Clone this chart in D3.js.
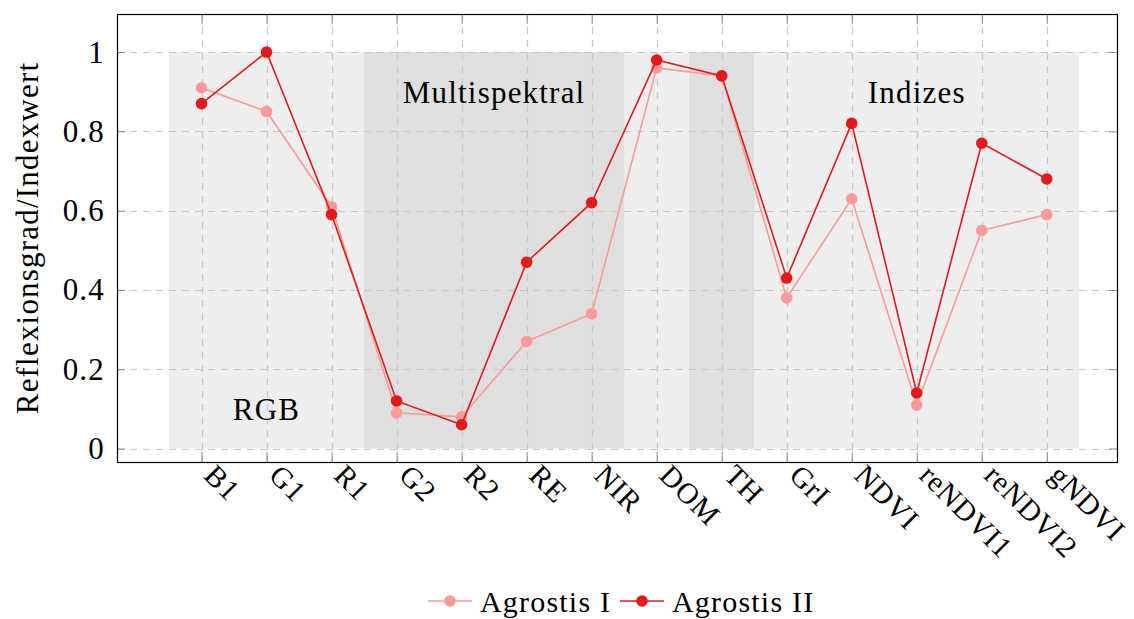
<!DOCTYPE html>
<html>
<head>
<meta charset="utf-8">
<script src="https://cdn.jsdelivr.net/npm/d3@7"></script>
<style>
  html, body { margin: 0; padding: 0; background: #fff; }
</style>
</head>
<body>
<svg id="chart" width="1134" height="619" font-family="'Liberation Serif', 'DejaVu Serif', serif" letter-spacing="1.2"></svg>
<script>
// Band / index names along the x axis
const categories = ["B1", "G1", "R1", "G2", "R2", "RE", "NIR", "DOM", "TH", "GrI", "NDVI", "reNDVI1", "reNDVI2", "gNDVI"];

// Mean reflectance / index value per band
const agrostisI  = [0.91, 0.85, 0.61, 0.09, 0.08, 0.27, 0.34, 0.96, 0.94, 0.38, 0.63, 0.11, 0.55, 0.59];
const agrostisII = [0.87, 1.00, 0.59, 0.12, 0.06, 0.47, 0.62, 0.98, 0.94, 0.43, 0.82, 0.14, 0.77, 0.68];

const seriesNames = ["Agrostis I", "Agrostis II"];
const yTicks = [0, 0.2, 0.4, 0.6, 0.8, 1];

// Shaded sensor groups (x in category positions 1..14, y in value units)
const groupSpans = [
  { x0: 0.5, x1: 14.5, tone: "light" },
  { x0: 3.5, x1: 7.5,  tone: "dark" },
  { x0: 8.5, x1: 9.5,  tone: "dark" }
];
const groupLabels = [
  { text: "RGB",           x: 2,   y: 0.1 },
  { text: "Multispektral", x: 5.5, y: 0.9 },
  { text: "Indizes",       x: 12,  y: 0.9 }
];

const colors = ["#fb9a99", "#e31a1c"];
const fontSize = 31;

const svg = d3.select("#chart");
const plot = { left: 117, right: 1117, top: 14, bottom: 462 };

const x = d3.scaleLinear().domain([-0.3, 15.08]).range([plot.left, plot.right]);
const y = d3.scaleLinear().domain([-0.034, 1.096]).range([plot.bottom, plot.top]);

// group shading
svg.append("g").selectAll("rect").data(groupSpans).join("rect")
  .attr("x", d => x(d.x0))
  .attr("width", d => x(d.x1) - x(d.x0))
  .attr("y", y(1))
  .attr("height", y(0) - y(1))
  .attr("fill", d => d.tone === "light" ? "#eeeeee" : "#dfdfdf");

// dashed grid
const grid = svg.append("g")
  .attr("stroke", "#c8c8c8").attr("stroke-width", 1.2).attr("stroke-dasharray", "7,6");
grid.selectAll("line.gx").data(d3.range(1, categories.length + 1)).join("line")
  .attr("class", "gx")
  .attr("x1", d => Math.round(x(d)) + 0.5).attr("x2", d => Math.round(x(d)) + 0.5)
  .attr("y1", plot.top).attr("y2", plot.bottom);
grid.selectAll("line.gy").data(yTicks).join("line")
  .attr("class", "gy")
  .attr("y1", d => Math.round(y(d)) + 0.5).attr("y2", d => Math.round(y(d)) + 0.5)
  .attr("x1", plot.left).attr("x2", plot.right);

// axes with inward ticks on all four sides
const xTickVals = d3.range(1, categories.length + 1);
const xAxisB = d3.axisBottom(x).tickValues(xTickVals).tickSize(-10).tickFormat("");
const xAxisT = d3.axisTop(x).tickValues(xTickVals).tickSize(-10).tickFormat("");
const yAxisL = d3.axisLeft(y).tickValues(yTicks).tickSize(-8).tickFormat("");
const yAxisR = d3.axisRight(y).tickValues(yTicks).tickSize(-8).tickFormat("");

function styleAxis(g) {
  g.select(".domain").remove();
  g.selectAll(".tick line").attr("stroke", "#8a8a8a").attr("stroke-width", 1);
}
svg.append("g").attr("transform", `translate(0,${plot.bottom})`).call(xAxisB).call(styleAxis);
svg.append("g").attr("transform", `translate(0,${plot.top})`).call(xAxisT).call(styleAxis);
svg.append("g").attr("transform", `translate(${plot.left},0)`).call(yAxisL).call(styleAxis);
svg.append("g").attr("transform", `translate(${plot.right},0)`).call(yAxisR).call(styleAxis);

// frame
svg.append("rect")
  .attr("x", plot.left + 0.5).attr("y", plot.top + 0.5)
  .attr("width", plot.right - plot.left).attr("height", plot.bottom - plot.top)
  .attr("fill", "none").attr("stroke", "#000").attr("stroke-width", 1.2);

// y tick labels
svg.append("g").selectAll("text").data(yTicks).join("text")
  .attr("x", 105).attr("y", d => y(d))
  .attr("dy", "0.34em")
  .attr("text-anchor", "end")
  .attr("font-size", fontSize)
  .text(d => d3.format("~g")(d));

// x tick labels, rotated
svg.append("g").selectAll("text").data(categories).join("text")
  .attr("transform", (d, i) => `translate(${x(i + 1) + 1},${plot.bottom + 15}) rotate(45)`)
  .attr("text-anchor", "start")
  .attr("letter-spacing", 0.8)
  .attr("font-size", 29.5)
  .text(d => d);

// y axis title
svg.append("text")
  .attr("transform", `translate(38,${(plot.top + plot.bottom) / 2}) rotate(-90)`)
  .attr("text-anchor", "middle")
  .attr("font-size", fontSize)
  .text("Reflexionsgrad/Indexwert");

// group labels
svg.append("g").selectAll("text").data(groupLabels).join("text")
  .attr("x", d => x(d.x)).attr("y", d => y(d.y))
  .attr("dy", "0.35em")
  .attr("text-anchor", "middle")
  .attr("font-size", fontSize)
  .text(d => d.text);

// series
const seriesData = [agrostisI, agrostisII];
const line = d3.line().x((d, i) => x(i + 1)).y(d => y(d));
seriesData.forEach((vals, s) => {
  const g = svg.append("g");
  g.append("path").datum(vals)
    .attr("d", line)
    .attr("fill", "none")
    .attr("stroke", colors[s])
    .attr("stroke-width", 1.6);
  g.selectAll("circle").data(vals).join("circle")
    .attr("cx", (d, i) => x(i + 1)).attr("cy", d => y(d))
    .attr("r", 5.8)
    .attr("fill", colors[s]);
});

// legend
const legendItems = [
  { name: seriesNames[0], color: colors[0], x0: 428 },
  { name: seriesNames[1], color: colors[1], x0: 620 }
];
const legendY = 601;
const lg = svg.append("g");
legendItems.forEach(it => {
  lg.append("line")
    .attr("x1", it.x0).attr("x2", it.x0 + 44)
    .attr("y1", legendY).attr("y2", legendY)
    .attr("stroke", it.color).attr("stroke-width", 1.6);
  lg.append("circle")
    .attr("cx", it.x0 + 22).attr("cy", legendY).attr("r", 5.8)
    .attr("fill", it.color);
  lg.append("text")
    .attr("x", it.x0 + 52).attr("y", legendY)
    .attr("dy", "0.35em")
    .attr("font-size", 30)
    .text(it.name);
});
</script>
</body>
</html>
